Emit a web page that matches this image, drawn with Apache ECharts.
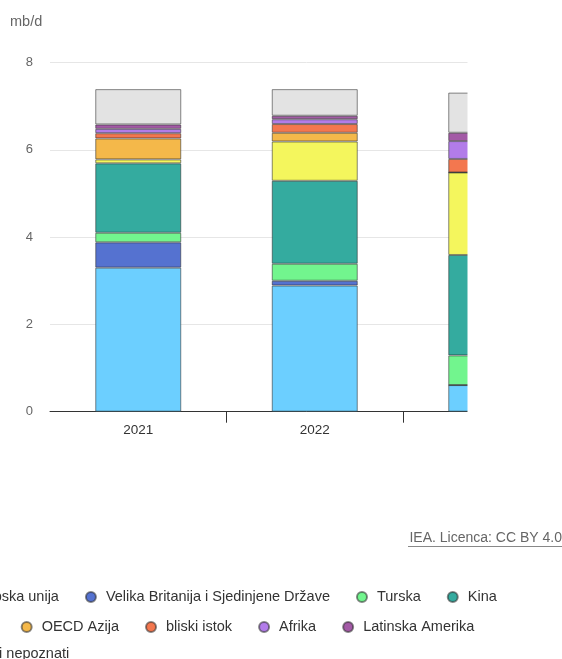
<!DOCTYPE html>
<html>
<head>
<meta charset="utf-8">
<script src="https://cdn.jsdelivr.net/npm/echarts@6/dist/echarts.min.js"></script>
<style>
html,body{margin:0;padding:0;background:#fff;}
#chart{width:562px;height:659px;}
</style>
</head>
<body>
<div id="chart"></div>
<script>
const categories = ['2021', '2022', '2023'];
const seriesNames = ['Europska unija', 'Velika Britanija i Sjedinjene Države', 'Turska', 'Kina', 'Indija', 'OECD Azija', 'bliski istok', 'Afrika', 'Latinska Amerika', 'Ostali i nepoznati'];
const euValues      = [3.30, 2.89, 0.61];
const ukUsValues    = [0.58, 0.11, 0.00];
const turskaValues  = [0.22, 0.39, 0.68];
const kinaValues    = [1.59, 1.90, 2.30];
const indijaValues  = [0.09, 0.90, 1.89];
const oecdValues    = [0.48, 0.20, 0.00];
const bliskiValues  = [0.12, 0.20, 0.31];
const afrikaValues  = [0.10, 0.11, 0.41];
const latamValues   = [0.10, 0.08, 0.19];
const ostaliValues  = [0.81, 0.61, 0.92];
const yTicks = [0, 2, 4, 6, 8];

const allValues = [euValues, ukUsValues, turskaValues, kinaValues, indijaValues, oecdValues, bliskiValues, afrikaValues, latamValues, ostaliValues];
const colors = ['#6ccfff', '#5572d0', '#72f58e', '#34ab9f', '#f4f65d', '#f4b84a', '#f3774f', '#b27ce9', '#a35aa6', '#e3e3e3'];
const FONT = '"Liberation Sans", Arial, sans-serif';

const chart = echarts.init(document.getElementById('chart'), null, {renderer: 'canvas'});

const series = seriesNames.map((name, si) => ({
  name: name,
  type: 'bar',
  stack: 'total',
  barWidth: 86,
  itemStyle: {color: colors[si], borderColor: 'rgba(40,40,40,0.55)', borderWidth: 1},
  data: allValues[si]
}));

function legendRow(names, left, top) {
  return {
    orient: 'horizontal',
    left: left,
    top: top,
    width: 900,
    padding: 0,
    itemGap: 26,
    itemWidth: 20,
    itemHeight: 10,
    icon: 'circle',
    selectedMode: false,
    textStyle: {fontFamily: FONT, fontSize: 14.5, color: '#333', lineHeight: 16},
    data: names
  };
}

chart.setOption({
  animation: false,
  color: colors,
  textStyle: {fontFamily: FONT},
  title: {
    text: 'mb/d',
    left: 10,
    top: 14,
    padding: 0,
    textStyle: {fontFamily: FONT, fontSize: 14.5, fontWeight: 'normal', color: '#666'}
  },
  legend: [
    legendRow(seriesNames.slice(0, 4), -58, 589),
    legendRow(seriesNames.slice(4, 9), -61, 619),
    legendRow(seriesNames.slice(9), -63, 646)
  ],
  grid: {left: 50, width: 529.5, top: 62.5, height: 349.2, containLabel: false, outerBoundsMode: 'none'},
  xAxis: {
    type: 'category',
    data: categories,
    boundaryGap: true,
    axisLine: {show: true, lineStyle: {color: '#333', width: 1}},
    axisTick: {show: true, length: 11, interval: (i) => i > 0, lineStyle: {color: '#333'}},
    axisLabel: {margin: 12, fontFamily: FONT, fontSize: 13.5, color: '#333'}
  },
  yAxis: {
    type: 'value',
    min: 0,
    max: 8,
    interval: 2,
    axisLine: {show: false},
    axisTick: {show: false},
    splitLine: {show: true, lineStyle: {color: '#e6e6e6', width: 1}},
    axisLabel: {margin: 17, fontFamily: FONT, fontSize: 13, color: '#666',
      formatter: v => yTicks.indexOf(v) >= 0 ? String(v) : ''}
  },
  graphic: [
    {
      type: 'rect',
      z: 100,
      shape: {x: 467.5, y: 0, width: 120, height: 455},
      style: {fill: '#fff'}
    },
    {
      type: 'text',
      right: 0,
      top: 531,
      z: 101,
      style: {text: 'IEA. Licenca: CC BY 4.0', font: '14px ' + FONT, fill: '#666'}
    },
    {
      type: 'line',
      z: 101,
      shape: {x1: 408, y1: 546.5, x2: 562, y2: 546.5},
      style: {stroke: '#888', lineWidth: 1}
    }
  ],
  series: series
});
</script>
</body>
</html>
